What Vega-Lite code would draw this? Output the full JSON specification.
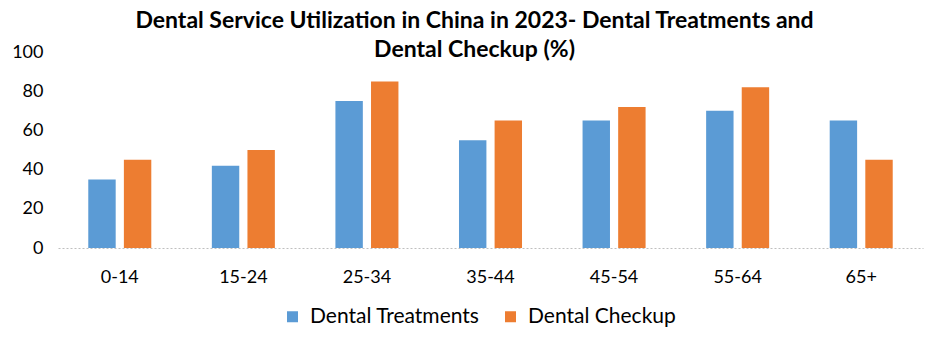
{
  "$schema": "https://vega.github.io/schema/vega-lite/v6.json",
  "autosize": "none",
  "width": 865,
  "height": 196,
  "padding": {"left": 58, "top": 52, "right": 24, "bottom": 102},
  "background": "white",
  "config": {"font": "Lato", "view": {"stroke": null}},
  "title": {
    "text": ["Dental Service Utilization in China in 2023- Dental Treatments and", "Dental Checkup (%)"],
    "fontSize": 23,
    "font": "Lato",
    "fontWeight": "bold",
    "color": "#000000",
    "anchor": "middle",
    "frame": "group",
    "dx": -16,
    "lineHeight": 29,
    "offset": -19
  },
  "data": {
    "values": [
      {"age": "0-14", "type": "Dental Treatments", "value": 35},
      {"age": "0-14", "type": "Dental Checkup", "value": 45},
      {"age": "15-24", "type": "Dental Treatments", "value": 42},
      {"age": "15-24", "type": "Dental Checkup", "value": 50},
      {"age": "25-34", "type": "Dental Treatments", "value": 75},
      {"age": "25-34", "type": "Dental Checkup", "value": 85},
      {"age": "35-44", "type": "Dental Treatments", "value": 55},
      {"age": "35-44", "type": "Dental Checkup", "value": 65},
      {"age": "45-54", "type": "Dental Treatments", "value": 65},
      {"age": "45-54", "type": "Dental Checkup", "value": 72},
      {"age": "55-64", "type": "Dental Treatments", "value": 70},
      {"age": "55-64", "type": "Dental Checkup", "value": 82},
      {"age": "65+", "type": "Dental Treatments", "value": 65},
      {"age": "65+", "type": "Dental Checkup", "value": 45}
    ]
  },
  "mark": {"type": "bar"},
  "encoding": {
    "x": {
      "field": "age",
      "type": "nominal",
      "sort": null,
      "title": null,
      "scale": {"paddingInner": 0.49, "paddingOuter": 0.245},
      "axis": {
        "labelAngle": 0,
        "labelFontSize": 18,
        "labelColor": "#000000",
        "labelPadding": 20,
        "ticks": false,
        "domainColor": "#BFBFBF",
        "domainDash": [2, 2],
        "domainWidth": 1
      }
    },
    "xOffset": {
      "field": "type",
      "type": "nominal",
      "sort": ["Dental Treatments", "Dental Checkup"],
      "scale": {"paddingInner": 0.23, "paddingOuter": 0}
    },
    "y": {
      "field": "value",
      "type": "quantitative",
      "title": null,
      "scale": {"domain": [0, 100]},
      "axis": {
        "values": [0, 20, 40, 60, 80, 100],
        "labelFontSize": 18,
        "labelColor": "#000000",
        "labelPadding": 15,
        "ticks": false,
        "domain": false,
        "grid": false
      }
    },
    "color": {
      "field": "type",
      "type": "nominal",
      "sort": ["Dental Treatments", "Dental Checkup"],
      "scale": {"domain": ["Dental Treatments", "Dental Checkup"], "range": ["#5B9BD5", "#ED7D31"]},
      "legend": {
        "title": null,
        "orient": "none",
        "legendX": 224,
        "legendY": 254,
        "direction": "horizontal",
        "symbolType": "square",
        "symbolSize": 121,
        "symbolStrokeWidth": 0,
        "labelFontSize": 21,
        "labelLimit": 400,
        "labelColor": "#000000",
        "columnPadding": 20,
        "labelOffset": 7
      }
    }
  }
}
